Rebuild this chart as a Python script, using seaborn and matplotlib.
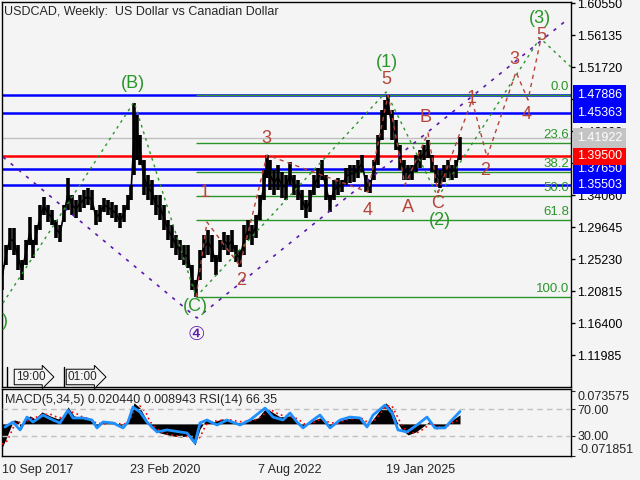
import numpy as np
import pandas as pd
import seaborn as sns
import matplotlib.pyplot as plt
import matplotlib.transforms as mtrans

sns.set_style("white")
plt.rcParams['font.family'] = ['Liberation Sans', 'DejaVu Sans']

# weekly bars, week 0 = 10 Sep 2017
weeks = [0, 4, 8, 12, 16, 20, 24, 28, 31, 34,
         38, 42, 46, 50, 54, 58, 62, 66, 70, 74,
         78, 82, 86, 90, 94, 98, 102, 106, 110, 114,
         118, 122, 126, 129, 132, 135, 138, 142, 146, 150,
         154, 158, 162, 166, 170, 174, 178, 182, 186, 190,
         194, 198, 202, 206, 210, 214, 218, 222, 226, 230,
         234, 238, 242, 246, 250, 254, 258, 262, 265, 268,
         272, 276, 280, 284, 288, 292, 296, 300, 304, 308,
         312, 316, 320, 324, 328, 332, 336, 340, 344, 348,
         352, 356, 360, 364, 368, 372, 376, 380, 383, 386,
         390, 394, 398, 402, 406, 410, 414, 418, 422, 426,
         430, 434, 438, 442, 446, 450, 454, 458]
highs = [1.2440, 1.2716, 1.2951, 1.2951, 1.2716, 1.2509, 1.2785, 1.3103, 1.2785, 1.2992,
         1.3268, 1.3379, 1.3268, 1.3199, 1.3061, 1.2992, 1.3268, 1.3641, 1.3406, 1.3337,
         1.3406, 1.3475, 1.3503, 1.3475, 1.3199, 1.3268, 1.3365, 1.3337, 1.3310, 1.3268,
         1.3158, 1.3268, 1.3406, 1.3544, 1.4675, 1.4510, 1.4234, 1.3889, 1.3682, 1.3613,
         1.3406, 1.3406, 1.3268, 1.3061, 1.2992, 1.2854, 1.2785, 1.2716, 1.2716, 1.2440,
         1.2233, 1.2647, 1.2854, 1.2923, 1.2854, 1.2578, 1.2785, 1.2896, 1.2854, 1.2923,
         1.2716, 1.2647, 1.2992, 1.3061, 1.2992, 1.3130, 1.3406, 1.3751, 1.3958, 1.3889,
         1.3751, 1.3820, 1.3723, 1.3682, 1.3861, 1.3682, 1.3613, 1.3475, 1.3337, 1.3475,
         1.3682, 1.3779, 1.3889, 1.3682, 1.3406, 1.3613, 1.3641, 1.3613, 1.3779, 1.3820,
         1.3820, 1.3889, 1.3958, 1.3682, 1.3613, 1.3889, 1.4234, 1.4579, 1.4717, 1.4786,
         1.4579, 1.4441, 1.4096, 1.3889, 1.3820, 1.3820, 1.3958, 1.4027, 1.4096, 1.4165,
         1.3958, 1.3820, 1.3751, 1.3820, 1.3889, 1.3820, 1.3889, 1.4206]
lows = [1.2095, 1.2440, 1.2647, 1.2578, 1.2371, 1.2233, 1.2440, 1.2716, 1.2537, 1.2716,
        1.2923, 1.3130, 1.3033, 1.2992, 1.2813, 1.2758, 1.3033, 1.3199, 1.3130, 1.3089,
        1.3172, 1.3227, 1.3268, 1.3199, 1.2992, 1.3033, 1.3172, 1.3130, 1.3089, 1.3033,
        1.2951, 1.3033, 1.3199, 1.3337, 1.3682, 1.3889, 1.3820, 1.3406, 1.3337, 1.3268,
        1.3130, 1.3061, 1.2923, 1.2785, 1.2675, 1.2578, 1.2509, 1.2440, 1.2399, 1.2095,
        1.1999, 1.2233, 1.2537, 1.2578, 1.2482, 1.2302, 1.2482, 1.2647, 1.2578, 1.2620,
        1.2482, 1.2413, 1.2578, 1.2785, 1.2716, 1.2813, 1.3061, 1.3337, 1.3641, 1.3475,
        1.3406, 1.3475, 1.3365, 1.3337, 1.3544, 1.3406, 1.3337, 1.3199, 1.3089, 1.3172,
        1.3406, 1.3503, 1.3613, 1.3337, 1.3172, 1.3337, 1.3406, 1.3447, 1.3544, 1.3572,
        1.3585, 1.3641, 1.3723, 1.3447, 1.3434, 1.3613, 1.3820, 1.4165, 1.4303, 1.4510,
        1.4165, 1.4027, 1.3751, 1.3613, 1.3613, 1.3613, 1.3723, 1.3779, 1.3889, 1.3917,
        1.3723, 1.3572, 1.3503, 1.3585, 1.3641, 1.3613, 1.3641, 1.3889]

# horizontal levels
blue_levels = [1.47886, 1.45363, 1.37650, 1.35503]
red_level = 1.39500
last_price = 1.41922
fib_names = ['0.0', '23.6', '38.2', '50.0', '61.8', '100.0']
fib_levels = [1.4786, 1.4128, 1.3721, 1.3393, 1.3064, 1.1999]
fib_start = 194

# wave markings
purple_w = [1, 195, 566]
purple_p = [1.3930, 1.1709, 1.5834]
green_w = [1, 132, 194, 384, 436, 538, 569]
green_p = [1.1916, 1.4689, 1.1999, 1.4827, 1.3379, 1.5572, 1.5172]
red_w = [194, 205, 238, 265, 366, 386, 403, 426, 436]
red_p = [1.1999, 1.3033, 1.2427, 1.3958, 1.3447, 1.4786, 1.3544, 1.4262, 1.3434]
fc_w = [436, 470, 485, 514, 526, 539]
fc_p = [1.3434, 1.4717, 1.3930, 1.5104, 1.4717, 1.5572]

# axis ticks (labels of the ones hidden by the price boxes left empty)
price_ticks = [1.60550, 1.56135, 1.51720, 1.47305, 1.42890, 1.38475,
               1.34060, 1.29645, 1.25230, 1.20815, 1.16400, 1.11985]
hidden_ticks = [1.47305, 1.38475]
date_weeks = [0, 128, 256, 384]
date_labels = ['10 Sep 2017', '23 Feb 2020', '7 Aug 2022', '19 Jan 2025']

# indicator window
macd_w = [0, 4, 8, 12, 16, 19, 23, 28, 33, 40,
          48, 56, 62, 66, 72, 80, 88, 94, 102, 110,
          118, 124, 129, 132, 138, 144, 148, 154, 162, 170,
          178, 186, 193, 198, 204, 212, 220, 228, 238, 248,
          256, 264, 270, 278, 288, 296, 302, 310, 318, 328,
          336, 344, 352, 360, 366, 372, 378, 384, 390, 395,
          400, 406, 414, 422, 428, 434, 440, 446, 452, 458]
macd = [-0.0537, -0.0336, -0.0112, 0.0089, 0.0067, -0.0134, 0.0089, 0.0179, 0.0112, 0.0268,
        0.0179, 0.0112, 0.0179, 0.0380, 0.0179, 0.0134, 0.0089, -0.0067, 0.0045, 0.0022,
        -0.0045, 0.0022, 0.0268, 0.0470, 0.0358, 0.0112, -0.0067, -0.0179, -0.0224, -0.0268,
        -0.0291, -0.0268, -0.0470, -0.0112, 0.0089, 0.0045, 0.0112, 0.0067, 0.0022, 0.0089,
        0.0134, 0.0358, 0.0268, 0.0157, 0.0179, 0.0045, -0.0067, 0.0067, 0.0134, -0.0067,
        0.0067, 0.0112, 0.0134, 0.0112, -0.0045, 0.0134, 0.0313, 0.0470, 0.0313, 0.0045,
        -0.0134, -0.0246, -0.0179, -0.0045, 0.0067, -0.0112, -0.0089, 0.0000, 0.0112, 0.0204]
signal = [-0.0450, -0.0420, -0.0250, -0.0050, 0.0060, 0.0010, 0.0000, 0.0120, 0.0140, 0.0200,
          0.0220, 0.0140, 0.0140, 0.0260, 0.0260, 0.0160, 0.0110, 0.0020, 0.0000, 0.0030,
          0.0000, 0.0000, 0.0120, 0.0300, 0.0400, 0.0250, 0.0050, -0.0100, -0.0200, -0.0250,
          -0.0280, -0.0280, -0.0380, -0.0300, -0.0020, 0.0060, 0.0080, 0.0090, 0.0050, 0.0060,
          0.0110, 0.0250, 0.0300, 0.0200, 0.0170, 0.0110, 0.0000, 0.0010, 0.0100, 0.0030,
          0.0010, 0.0090, 0.0120, 0.0120, 0.0030, 0.0060, 0.0220, 0.0400, 0.0400, 0.0180,
          -0.0040, -0.0190, -0.0210, -0.0110, 0.0010, -0.0030, -0.0100, -0.0040, 0.0050, 0.0089]
rsi_w = [3, 11, 18, 25, 31, 41, 51, 58, 66, 71,
         81, 90, 95, 101, 111, 121, 126, 131, 138, 145,
         155, 165, 178, 185, 193, 198, 205, 215, 225, 238,
         248, 263, 271, 281, 288, 295, 301, 311, 318, 328,
         338, 348, 358, 365, 371, 383, 390, 396, 405, 415,
         425, 433, 443, 448, 458]
rsi = [43.3, 50.7, 38.9, 58.1, 50.7, 61.1, 53.7, 49.3, 68.5, 56.7,
       56.7, 53.7, 41.9, 50.7, 49.3, 41.9, 50.7, 73.0, 65.6, 50.7,
       35.9, 38.9, 35.9, 34.4, 19.6, 49.3, 53.7, 46.3, 53.7, 46.3,
       53.7, 71.5, 58.1, 53.7, 64.1, 50.7, 41.9, 53.7, 61.1, 41.9,
       53.7, 58.1, 56.7, 43.3, 61.1, 75.9, 64.1, 38.9, 35.9, 46.3,
       58.1, 41.9, 41.9, 50.7, 66.35]

bg = '#F4F4F4'
green = '#2A962A'
wave_red = '#B5443A'

fig = plt.figure(figsize=(6.4, 4.8), dpi=100, facecolor=bg)
ax = fig.add_axes([2 / 640, 93 / 480, 569 / 640, 385 / 480])
axm = fig.add_axes([2 / 640, 24 / 480, 569 / 640, 67 / 480])
for a in (ax, axm):
    a.set_facecolor(bg)
    for s in a.spines.values():
        s.set_color('black')
        s.set_linewidth(1)

# price bars
bars = pd.DataFrame({'week': weeks, 'high': highs, 'low': lows})
bars['mid'] = (bars['high'] + bars['low']) / 2
ax.vlines(bars['week'], bars['low'], bars['high'], color='black', lw=2.6, zorder=3)
sns.lineplot(data=bars, x='week', y='mid', ax=ax, color='black', lw=1.2, zorder=3)

# levels
for lv in blue_levels:
    ax.axhline(lv, color='#0000FF', lw=1.8, zorder=2)
ax.axhline(red_level, color='#FF0000', lw=1.8, zorder=2)
ax.axhline(last_price, color='#C0C0C0', lw=1, zorder=1)
ax.hlines(fib_levels, fib_start, 569, color=green, lw=1, zorder=2)
for name, lv in zip(fib_names, fib_levels):
    ax.text(567, lv + 0.003, name, ha='right', va='bottom', color=green, fontsize=9.5)

# wave lines
ax.plot(purple_w, purple_p, color='#5A1AAE', lw=1.2, ls=(0, (2, 4)), zorder=4)
ax.plot(green_w, green_p, color=green, lw=1, ls=(0, (2, 3)), zorder=4)
ax.plot(red_w, red_p, color=wave_red, lw=1, ls=(0, (3, 3)), zorder=4)
ax.plot(fc_w, fc_p, color=wave_red, lw=1, ls=(0, (3, 3)), zorder=4)

# wave labels
for t, x, y in [('(B)', 131, 1.4938), ('(C)', 193, 1.1861), ('(1)', 385, 1.5241),
                ('(2)', 438, 1.3061), ('(3)', 538, 1.5835), (')', 3, 1.1654)]:
    ax.text(x, y, t, color=green, fontsize=13, ha='center', va='center', zorder=6)
ax.text(194, 1.1475, '\u2463', color='#5A1AAE', fontsize=14, ha='center', va='center',
        family='DejaVu Sans', zorder=6)
for t, x, y in [('1', 203, 1.3434), ('2', 239, 1.2233), ('3', 264, 1.4179),
                ('4', 366, 1.3199), ('5', 384, 1.4993), ('A', 406, 1.3240),
                ('B', 424, 1.4469), ('C', 436, 1.3282), ('1', 470, 1.4731),
                ('2', 483, 1.3751), ('3', 512, 1.5282), ('4', 525, 1.4510),
                ('5', 539, 1.5600)]:
    ax.text(x, y, t, color=wave_red, fontsize=13, ha='center', va='center', zorder=6)

ax.set_xlim(0, 569)
ax.set_ylim(1.0757, 1.6069)
ax.set_xticks([])
ax.yaxis.tick_right()
ax.set_yticks(price_ticks)
ax.set_yticklabels(['' if v in hidden_ticks else f'{v:.5f}' for v in price_ticks])
ax.tick_params(axis='y', direction='out', length=3, width=1, pad=1.5, labelsize=9, colors='black')
ax.set_xlabel('')
ax.set_ylabel('')

# price boxes on the scale
tr = mtrans.blended_transform_factory(ax.transAxes, ax.transData)
boxes = [(v, '#0000FF') for v in blue_levels] + [(red_level, '#FF0000'), (last_price, '#C4C4C4')]
for v, c in boxes:
    ax.text(1.0 + 6 / 569, v, f'{v:.5f}', transform=tr, ha='left', va='center', color='white',
            fontsize=9, clip_on=False, zorder=10,
            bbox=dict(boxstyle='square,pad=0.3', fc=c, ec='none'))

# title and time markers
fig.text(4 / 640, 1 - 12 / 480, 'USDCAD, Weekly:  US Dollar vs Canadian Dollar', fontsize=9,
         va='center', ha='left')
for xs in (5 / 569, 62 / 569):
    ax.plot([xs, xs], [0, 0.052], transform=ax.transAxes, color='black', lw=1)
ax.text(14 / 569, 0.026, '19:00', transform=ax.transAxes, fontsize=8.5, va='center',
        bbox=dict(boxstyle='rarrow,pad=0.15', fc=bg, ec='black', lw=0.7))
ax.text(66 / 569, 0.026, '01:00', transform=ax.transAxes, fontsize=8.5, va='center',
        bbox=dict(boxstyle='rarrow,pad=0.15', fc=bg, ec='black', lw=0.7))

# MACD histogram + signal
axm.fill_between(macd_w, 0, macd, color='black', lw=0, zorder=2)
axm.plot(macd_w, signal, color='#FF0000', lw=1.2, ls=(0, (1, 2)), zorder=3)
axm.set_xlim(0, 569)
axm.set_ylim(-0.071851, 0.07803)

# RSI
axr = axm.twinx()
axr.set_ylim(0, 100)
axr.axhline(70, color='#C0C0C0', lw=1, ls=(0, (4, 3)), zorder=1)
axr.axhline(30, color='#C0C0C0', lw=1, ls=(0, (4, 3)), zorder=1)
sns.lineplot(x=rsi_w, y=rsi, ax=axr, color='#1E90FF', lw=2, zorder=4)
axr.set_yticks([70, 30])
axr.set_yticklabels(['70.00', '30.00'])
axr.tick_params(axis='y', direction='out', length=3, pad=1.5, labelsize=9)
axr.set_ylabel('')
for s in axr.spines.values():
    s.set_visible(False)

axm.yaxis.tick_right()
axm.set_yticks([0.073575, -0.071851])
axm.set_yticklabels(['0.073575', '-0.071851'])
axm.tick_params(axis='y', direction='out', length=3, pad=1.5, labelsize=9)
lbls = axm.get_yticklabels()
lbls[0].set_va('top')
lbls[1].set_va('bottom')

axm.set_xticks(date_weeks)
axm.set_xticklabels(date_labels)
axm.tick_params(axis='x', direction='out', length=3, pad=3, labelsize=9)
for lb in axm.get_xticklabels():
    lb.set_ha('left')
axm.text(3 / 569, 0.83, 'MACD(5,34,5) 0.020440 0.008943 RSI(14) 66.35', transform=axm.transAxes,
         fontsize=9, va='center', ha='left', zorder=6)

fig.savefig('out.png', dpi=100, facecolor=bg)
